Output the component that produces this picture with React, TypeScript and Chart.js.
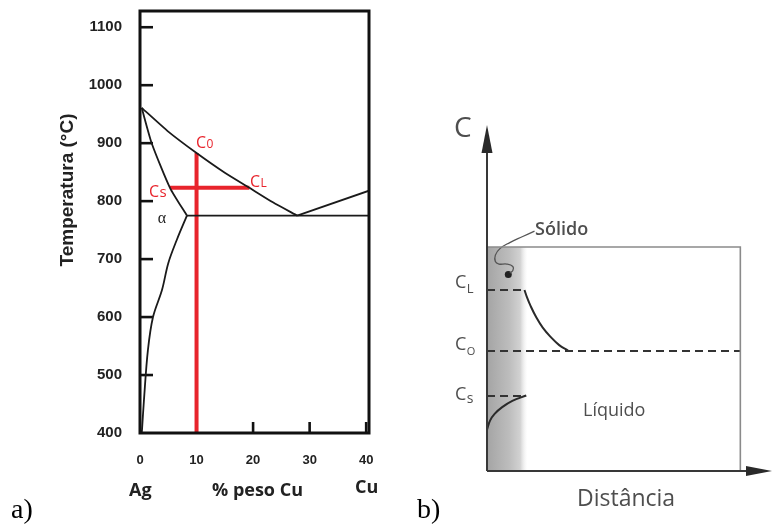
import React, { useEffect, useRef } from "react";
import { Chart, registerables } from "chart.js";

Chart.register(...registerables);

// ---------------- Panel a) : Ag–Cu phase diagram ----------------
const xTickValues = [0, 10, 20, 30, 40];
const yTickValues = [400, 500, 600, 700, 800, 900, 1000, 1100];
const xInnerTicks = [10, 20, 30, 40];
const yInnerTicks = [500, 600, 700, 800, 900, 1000, 1100];

const liquidusLeft = [[0.3, 961], [5, 920], [10, 883], [15, 849], [19.35, 823], [23.5, 798], [27.8, 775]];
const liquidusRight = [[27.8, 775], [40.5, 818]];
const solidusLine = [[0.3, 961], [2.1, 899], [5.3, 823], [8.3, 775]];
const eutecticLine = [[8.3, 775], [40.5, 775]];
const solvusLine = [[8.3, 775], [6.5, 733], [5.0, 693], [3.9, 647], [2.3, 600], [1.4, 543], [0.7, 457], [0.35, 405], [0.3, 400]];
const c0Vertical = [[10, 400], [10, 883]];
const tieLine = [[5.3, 823], [19.35, 823]];

// ---------------- Panel b) : concentration vs distance ----------------
const boxOutline = [[0, 1], [1, 1], [1, 0]];
const dashCL = [[0, 0.808], [0.148, 0.808]];
const dashC0 = [[0, 0.536], [1, 0.536]];
const dashCS = [[0, 0.335], [0.148, 0.335]];
const liquidProfile = [[0.148, 0.808], [0.158, 0.775], [0.172, 0.737], [0.195, 0.685], [0.22, 0.64], [0.25, 0.6], [0.285, 0.562], [0.32, 0.538]];
const solidProfile = [[0, 0.185], [0.012, 0.225], [0.03, 0.255], [0.06, 0.285], [0.1, 0.313], [0.155, 0.337]];
const leaderLine = [[0.1875, 1.071], [0.141, 1.047], [0.09, 1.02], [0.051, 0.993], [0.033, 0.964], [0.033, 0.935], [0.047, 0.924], [0.078, 0.924], [0.102, 0.913], [0.102, 0.895], [0.09, 0.884]];
const solidDot = [[0.084, 0.877]];
const solidZoneEnd = 0.16;

const pts = (a: number[][]) => a.map(([x, y]) => ({ x, y }));

const black = "#1a1a1a";
const red = "#e8242c";

function drawSub(ctx: CanvasRenderingContext2D, x: number, y: number, main: string, sub: string, mainFont: string, subFont: string, subDy: number, color: string) {
  ctx.fillStyle = color;
  ctx.textAlign = "left";
  ctx.textBaseline = "alphabetic";
  ctx.font = mainFont;
  ctx.fillText(main, x, y);
  const w = ctx.measureText(main).width;
  ctx.font = subFont;
  ctx.fillText(sub, x + w + 0.5, y + subDy);
}

const panelAPlugin = {
  id: "panelA",
  beforeDatasetsDraw(chart: any) {
    const { ctx, chartArea, scales } = chart;
    const { left, bottom } = chartArea;
    ctx.save();
    ctx.strokeStyle = "#111";
    ctx.lineWidth = 2.6;
    yInnerTicks.forEach((v) => {
      const py = scales.y.getPixelForValue(v);
      ctx.beginPath();
      ctx.moveTo(left, py);
      ctx.lineTo(left + 13, py);
      ctx.stroke();
    });
    xInnerTicks.forEach((v) => {
      const px = scales.x.getPixelForValue(v);
      ctx.beginPath();
      ctx.moveTo(px, bottom);
      ctx.lineTo(px, bottom - 11);
      ctx.stroke();
    });
    ctx.restore();
  },
  afterDraw(chart: any) {
    const { ctx, chartArea } = chart;
    const { left, right, top, bottom } = chartArea;
    ctx.save();
    ctx.strokeStyle = "#111";
    ctx.lineWidth = 3;
    ctx.strokeRect(left, top, right - left, bottom - top);

    // axis title
    ctx.save();
    ctx.translate(68, 190);
    ctx.rotate(-Math.PI / 2);
    ctx.font = "bold 19px 'Liberation Sans', Arial";
    ctx.fillStyle = "#222";
    ctx.textAlign = "center";
    ctx.textBaseline = "middle";
    ctx.fillText("Temperatura (°C)", 0, 0);
    ctx.restore();

    ctx.fillStyle = "#222";
    ctx.textAlign = "left";
    ctx.textBaseline = "alphabetic";
    ctx.font = "bold 18px 'Open Sans'";
    ctx.fillText("Ag", 129, 496);
    ctx.fillText("% peso Cu", 212, 496);
    ctx.fillText("Cu", 355, 493);

    ctx.font = "28px 'Liberation Serif'";
    ctx.fillStyle = "#000";
    ctx.fillText("a)", 11, 518);

    ctx.font = "16px 'Liberation Serif'";
    ctx.fillStyle = "#222";
    ctx.textAlign = "center";
    ctx.textBaseline = "middle";
    ctx.fillText("α", 162, 219);

    drawSub(ctx, 196, 148, "C", "0", "16px 'Open Sans'", "12px 'Open Sans'", 0, red);
    drawSub(ctx, 250, 186.5, "C", "L", "16px 'Open Sans'", "12px 'Open Sans'", 0, red);
    drawSub(ctx, 149, 196.5, "C", "s", "16px 'Open Sans'", "15px 'Open Sans'", 0, red);
    ctx.restore();
  },
};

const panelBPlugin = {
  id: "panelB",
  beforeDatasetsDraw(chart: any) {
    const { ctx, scales } = chart;
    const x0 = scales.x.getPixelForValue(0);
    const x1 = scales.x.getPixelForValue(solidZoneEnd);
    const yTop = scales.y.getPixelForValue(1);
    const yBot = scales.y.getPixelForValue(0);
    ctx.save();
    const g = ctx.createLinearGradient(x0, 0, x1, 0);
    g.addColorStop(0, "#a4a4a4");
    g.addColorStop(0.55, "#bdbdbd");
    g.addColorStop(0.82, "#d2d2d2");
    g.addColorStop(1, "rgba(240,240,240,0)");
    ctx.fillStyle = g;
    ctx.fillRect(x0, yTop, x1 - x0, yBot - yTop);
    ctx.restore();
  },
  afterDatasetsDraw(chart: any) {
    const { ctx, chartArea } = chart;
    const { left, right, top, bottom } = chartArea;
    ctx.save();
    ctx.strokeStyle = "#383838";
    ctx.fillStyle = "#2a2a2a";
    ctx.lineWidth = 2;
    ctx.beginPath();
    ctx.moveTo(left, bottom);
    ctx.lineTo(left, top + 20);
    ctx.moveTo(left, bottom);
    ctx.lineTo(right - 20, bottom);
    ctx.stroke();
    // arrowheads
    ctx.beginPath();
    ctx.moveTo(left, top);
    ctx.lineTo(left - 5.5, top + 28);
    ctx.lineTo(left + 5.5, top + 28);
    ctx.closePath();
    ctx.fill();
    ctx.beginPath();
    ctx.moveTo(right, bottom);
    ctx.lineTo(right - 26, bottom - 5);
    ctx.lineTo(right - 26, bottom + 5);
    ctx.closePath();
    ctx.fill();
    ctx.restore();
  },
  afterDraw(chart: any) {
    const { ctx } = chart;
    ctx.save();
    const gray = "#4e4e4e";
    ctx.fillStyle = gray;
    ctx.textAlign = "left";
    ctx.textBaseline = "alphabetic";
    ctx.font = "28px 'Open Sans'";
    ctx.fillText("C", 54, 137);

    drawSub(ctx, 55, 288, "C", "L", "18px 'Open Sans'", "13px 'Open Sans'", 5, gray);
    drawSub(ctx, 55, 350, "C", "O", "18px 'Open Sans'", "11px 'Open Sans'", 5, gray);
    drawSub(ctx, 55, 400, "C", "s", "18px 'Open Sans'", "14px 'Open Sans'", 3, gray);

    ctx.fillStyle = gray;
    ctx.font = "600 18px 'Open Sans'";
    ctx.fillText("Sólido", 135, 235);
    ctx.font = "18px 'Open Sans'";
    ctx.fillText("Líquido", 183, 416);
    ctx.font = "23px 'Open Sans'";
    ctx.fillText("Distância", 177, 506);

    ctx.fillStyle = "#000";
    ctx.font = "28px 'Liberation Serif'";
    ctx.fillText("b)", 17, 518);
    ctx.restore();
  },
};

function lineDs(data: number[][], color: string, width: number, extra: any = {}) {
  return {
    data: pts(data),
    borderColor: color,
    backgroundColor: color,
    borderWidth: width,
    pointRadius: 0,
    fill: false,
    tension: 0,
    ...extra,
  };
}

export default function App() {
  const refA = useRef<HTMLCanvasElement>(null);
  const refB = useRef<HTMLCanvasElement>(null);

  useEffect(() => {
    const chartA = new Chart(refA.current as HTMLCanvasElement, {
      type: "line",
      data: {
        datasets: [
          lineDs(liquidusLeft, black, 1.8, { tension: 0.2 }),
          lineDs(liquidusRight, black, 1.8),
          lineDs(solidusLine, black, 1.8, { tension: 0.2 }),
          lineDs(eutecticLine, black, 1.6),
          lineDs(solvusLine, black, 1.8, { tension: 0.35 }),
          lineDs(c0Vertical, red, 4),
          lineDs(tieLine, red, 4),
        ] as any,
      },
      options: {
        responsive: false,
        animation: false,
        layout: { padding: { top: 11, right: 31, left: 0, bottom: 0 } },
        plugins: { legend: { display: false }, tooltip: { enabled: false } },
        scales: {
          x: {
            type: "linear",
            min: 0,
            max: 40.5,
            afterFit: (s: any) => { s.height = 91; s.paddingLeft = 0; s.paddingRight = 0; },
            afterBuildTicks: (s: any) => { s.ticks = xTickValues.map((v) => ({ value: v })); },
            grid: { display: false },
            border: { display: false },
            ticks: {
              padding: 12,
              autoSkip: false,
              maxRotation: 0,
              color: "#222",
              callback: (v: any) => String(v),
              font: { size: 13, weight: "bold", family: "'Liberation Sans', Arial" },
            },
          },
          y: {
            type: "linear",
            min: 400,
            max: 1128,
            afterFit: (s: any) => { s.width = 140; s.paddingTop = 0; s.paddingBottom = 0; },
            afterBuildTicks: (s: any) => { s.ticks = yTickValues.map((v) => ({ value: v })); },
            grid: { display: false },
            border: { display: false },
            ticks: {
              padding: 10,
              autoSkip: false,
              color: "#222",
              callback: (v: any) => String(v),
              font: { size: 15, weight: "bold", family: "'Liberation Sans', Arial" },
            },
          },
        },
      } as any,
      plugins: [panelAPlugin],
    });

    const chartB = new Chart(refB.current as HTMLCanvasElement, {
      type: "line",
      data: {
        datasets: [
          lineDs(boxOutline, "#8a8a8a", 1.6),
          lineDs(dashC0, "#333", 2, { borderDash: [8, 5] }),
          lineDs(dashCL, "#333", 2, { borderDash: [8, 5] }),
          lineDs(dashCS, "#333", 2, { borderDash: [8, 5] }),
          lineDs(liquidProfile, "#2a2a2a", 2, { tension: 0.4 }),
          lineDs(solidProfile, "#2a2a2a", 2, { tension: 0.4 }),
          lineDs(leaderLine, "#555", 1.3, { tension: 0.45 }),
          { data: pts(solidDot), showLine: false, pointRadius: 3.5, pointBackgroundColor: "#222", pointBorderColor: "#222", borderWidth: 0 },
        ] as any,
      },
      options: {
        responsive: false,
        animation: false,
        layout: { padding: { top: 125, right: 1, left: 87, bottom: 53 } },
        plugins: { legend: { display: false }, tooltip: { enabled: false } },
        scales: {
          x: { type: "linear", min: 0, max: 1.125, display: false },
          y: { type: "linear", min: 0, max: 1.545, display: false },
        },
      } as any,
      plugins: [panelBPlugin],
    });

    return () => {
      chartA.destroy();
      chartB.destroy();
    };
  }, []);

  return (
    <div style={{ position: "fixed", left: 0, top: 0, width: 776, height: 524, background: "#fff" }}>
      <canvas ref={refA} width={400} height={524} style={{ position: "absolute", left: 0, top: 0, width: 400, height: 524 }} />
      <canvas ref={refB} width={376} height={524} style={{ position: "absolute", left: 400, top: 0, width: 376, height: 524 }} />
    </div>
  );
}
